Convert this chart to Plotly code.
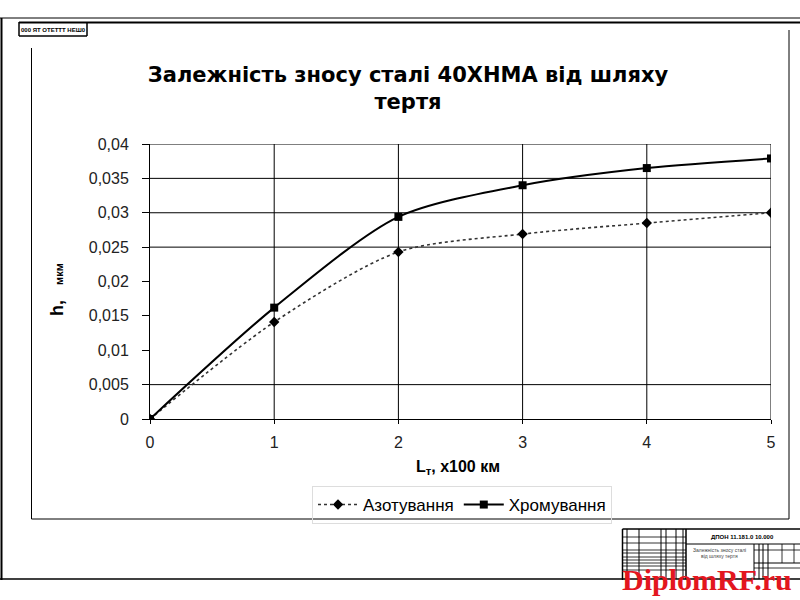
import plotly.graph_objects as go

# ---- data ----
x_vals = [0, 1, 2, 3, 4, 5]
azot = [0.0, 0.0141, 0.0243, 0.0269, 0.0285, 0.0300]
chrom = [0.0, 0.0162, 0.0294, 0.0340, 0.0365, 0.0379]
series_names = ["Азотування", "Хромування"]
y_tick_vals = [0, 0.005, 0.01, 0.015, 0.02, 0.025, 0.03, 0.035, 0.04]
y_tick_text = ["0", "0,005", "0,01", "0,015", "0,02", "0,025", "0,03", "0,035", "0,04"]
x_tick_vals = [0, 1, 2, 3, 4, 5]
grid_y_visible = [0.005, 0.025, 0.03, 0.035, 0.04]
grid_x_visible = [1, 2, 3, 4, 5]
title_text = "<b>Залежність зносу сталі 40ХНМА від шляху<br>тертя</b>"

# plot area in pixels
L, R, T, B = 150, 771, 144, 419
W, H = 800, 600


def xp(px):
    return (px - L) / (R - L)


def yp(py):
    return (B - py) / (B - T)


FONT = "Liberation Sans, Arial, sans-serif"

fig = go.Figure()
fig.add_trace(go.Scatter(
    x=x_vals, y=azot, name=series_names[0], mode="lines+markers",
    line=dict(color="#333333", width=1.6, dash="dot", shape="spline", smoothing=0.8),
    marker=dict(symbol="diamond", size=8, color="black"),
))
fig.add_trace(go.Scatter(
    x=x_vals, y=chrom, name=series_names[1], mode="lines+markers",
    line=dict(color="black", width=2, shape="spline", smoothing=0.8),
    marker=dict(symbol="square", size=8, color="black"),
))

shapes = []
# visible grid lines
for gy in grid_y_visible:
    shapes.append(dict(type="line", xref="x", yref="y", x0=0, x1=5, y0=gy, y1=gy,
                       line=dict(color="black", width=1), layer="below"))
for gx in grid_x_visible:
    shapes.append(dict(type="line", xref="x", yref="y", x0=gx, x1=gx, y0=0, y1=0.04,
                       line=dict(color="black", width=1), layer="below"))


def pline(x0, y0, x1, y1, w=1, c="black"):
    shapes.append(dict(type="line", xref="paper", yref="paper",
                       x0=xp(x0), x1=xp(x1), y0=yp(y0), y1=yp(y1),
                       line=dict(color=c, width=w)))


# drawing sheet frame
pline(0, 18, 800, 18, 1)
pline(19, 22.5, 800, 22.5, 2)
pline(1.5, 18, 1.5, 580, 2)
pline(0, 579, 800, 579, 1.5)
# top-left stamp box
pline(19, 22, 19, 36, 1.5)
pline(19, 36, 87, 36, 1.5)
pline(87, 22, 87, 36, 1.5)
# chart area border
pline(31.5, 48, 31.5, 519, 1)
pline(31.5, 519, 789, 519, 1)
pline(789, 30, 789, 519, 1)
# title block
pline(622.5, 529, 622.5, 580, 1.5)
pline(622.5, 529, 800, 529, 1.5)
for vx in [627, 639, 661, 666, 676, 683]:
    pline(vx, 529, vx, 579, 1)
pline(686, 529, 686, 579, 1.5)
for hy in [537, 543, 550, 553, 557, 560, 563, 566, 570]:
    pline(622.5, hy, 686, hy, 0.8)
pline(686, 544, 800, 544, 1)
for vx in [754, 759, 763, 768]:
    pline(vx, 544, vx, 579, 1)
pline(782, 544, 782, 563, 0.8)
pline(794, 544, 794, 563, 0.8)
pline(754, 550, 800, 550, 0.8)
pline(754, 563, 800, 563, 1)
pline(754, 568, 800, 568, 0.8)

annotations = [
    dict(text="<b>h,</b>   <b><span style='font-size:11px'>мкм</span></b>",
         xref="paper", yref="paper", x=xp(57), y=yp(290), showarrow=False,
         textangle=-90, font=dict(family=FONT, size=18, color="black"),
         xanchor="center", yanchor="middle"),
    dict(text="<b>L<sub>т</sub>, x100 км</b>", xref="paper", yref="paper",
         x=xp(458), y=yp(467), showarrow=False,
         font=dict(family=FONT, size=16, color="black"),
         xanchor="center", yanchor="middle"),
    dict(text="<b>000 ЯТ ОТЕТТТ НЕШ0</b>", xref="paper", yref="paper",
         x=xp(53), y=yp(29.5), showarrow=False,
         font=dict(family=FONT, size=6, color="black"),
         xanchor="center", yanchor="middle"),
    dict(text="<b>ДПОН 11.181.0 10.000</b>", xref="paper", yref="paper",
         x=xp(742), y=yp(536.5), showarrow=False,
         font=dict(family=FONT, size=6, color="black"),
         xanchor="center", yanchor="middle"),
    dict(text="Залежність зносу сталі", xref="paper", yref="paper",
         x=xp(719), y=yp(550), showarrow=False,
         font=dict(family=FONT, size=5, color="#444"),
         xanchor="center", yanchor="middle"),
    dict(text="від шляху тертя", xref="paper", yref="paper",
         x=xp(719), y=yp(556), showarrow=False,
         font=dict(family=FONT, size=5, color="#444"),
         xanchor="center", yanchor="middle"),
    dict(text="<b>DiplomRF.ru</b>", xref="paper", yref="paper",
         x=xp(620), y=yp(598), showarrow=False,
         font=dict(family="Liberation Serif, Times New Roman, serif", size=30, color="#e3161e"),
         xanchor="left", yanchor="bottom"),
]

fig.update_layout(
    width=W, height=H,
    margin=dict(l=L, r=W - R, t=T, b=H - B, pad=0),
    paper_bgcolor="white", plot_bgcolor="white",
    title=dict(text=title_text, x=408 / W, xanchor="center", xref="container",
               y=1 - 82 / H, yanchor="top", yref="container",
               font=dict(family="DejaVu Sans, sans-serif", size=21, color="black")),
    showlegend=True,
    legend=dict(orientation="h", x=xp(462), y=yp(505), xanchor="center", yanchor="middle",
                font=dict(family=FONT, size=17, color="black"),
                bgcolor="rgba(0,0,0,0)", bordercolor="#dddddd", borderwidth=1,
                itemwidth=40, tracegroupgap=0),
    shapes=shapes,
    annotations=annotations,
    xaxis=dict(range=[0, 5], tickvals=x_tick_vals, showgrid=False, zeroline=False,
               showline=True, linecolor="black", linewidth=1, mirror=False,
               ticks="outside", ticklen=4, tickcolor="black",
               tickfont=dict(family=FONT, size=16, color="#222"), ticklabelstandoff=5),
    yaxis=dict(range=[0, 0.04], tickvals=y_tick_vals, ticktext=y_tick_text,
               showgrid=False, zeroline=False,
               showline=True, linecolor="black", linewidth=1, mirror=False,
               ticks="outside", ticklen=7, tickcolor="black",
               tickfont=dict(family=FONT, size=16, color="#222"), ticklabelstandoff=10),
)

fig.write_html("out.html", config={"displayModeBar": False},
               post_script="document.body.style.margin='0';document.body.style.padding='0';")
